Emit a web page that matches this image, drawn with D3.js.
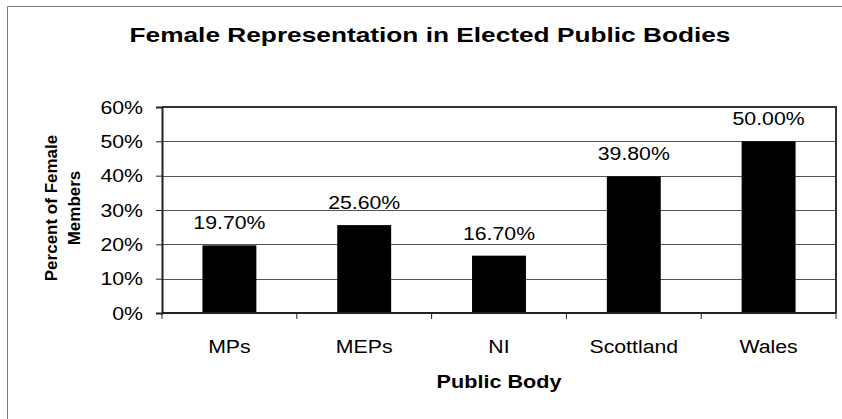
<!DOCTYPE html>
<html>
<head>
<meta charset="utf-8">
<script src="https://cdn.jsdelivr.net/npm/d3@7"></script>
<style>
  html, body { margin: 0; padding: 0; background: #fff; }
  svg { display: block; }
  text { font-family: Arial, "Liberation Sans", sans-serif; fill: #000; }
</style>
</head>
<body>
<svg id="chart" width="842" height="419"></svg>
<script>
const categories = ["MPs", "MEPs", "NI", "Scottland", "Wales"];
const values = [0.197, 0.256, 0.167, 0.398, 0.50];
const valueLabels = ["19.70%", "25.60%", "16.70%", "39.80%", "50.00%"];
const yTicks = [0, 0.1, 0.2, 0.3, 0.4, 0.5, 0.6];
const title = "Female Representation in Elected Public Bodies";
const xTitle = "Public Body";
const yTitleLines = ["Percent of Female", "Members"];

const svg = d3.select("#chart");
const W = 842, H = 419;
const plot = { left: 162, right: 836, top: 107, bottom: 313 };
const SX = 1.12; // horizontal stretch of the scanned text

// outer frame (left and top edges visible)
svg.append("path")
  .attr("d", `M7.5,${H} L7.5,6.5 L${W},6.5`)
  .attr("fill", "none").attr("stroke", "#777").attr("stroke-width", 1);

const x = d3.scaleBand().domain(categories)
  .range([plot.left, plot.right]).paddingInner(0.6).paddingOuter(0.3);
const step = x.step();
const y = d3.scaleLinear().domain([0, 0.6]).range([plot.bottom, plot.top]);

// gridlines
svg.append("g").selectAll("line").data(yTicks.filter(d => d > 0 && d < 0.6)).join("line")
  .attr("x1", plot.left).attr("x2", plot.right)
  .attr("y1", d => Math.round(y(d)) + 0.5).attr("y2", d => Math.round(y(d)) + 0.5)
  .attr("stroke", "#555").attr("stroke-width", 1);

// top and right border of plot
svg.append("path")
  .attr("d", `M${plot.left},${y(0.6)} L${plot.right},${y(0.6)} L${plot.right},${y(0)}`)
  .attr("fill", "none").attr("stroke", "#333").attr("stroke-width", 2);

// bars
svg.append("g").selectAll("rect").data(categories).join("rect")
  .attr("x", d => x(d))
  .attr("width", x.bandwidth())
  .attr("y", (d, i) => y(values[i]))
  .attr("height", (d, i) => y(0) - y(values[i]))
  .attr("fill", "#000");

// value labels
svg.append("g").selectAll("text").data(categories).join("text")
  .attr("transform", (d, i) => `translate(${x(d) + x.bandwidth() / 2},${y(values[i]) - 16}) scale(${SX},1)`)
  .attr("text-anchor", "middle")
  .style("font-size", "19px")
  .text((d, i) => valueLabels[i]);

// y axis
const yAxis = svg.append("g")
  .attr("transform", `translate(${plot.left},0)`)
  .call(d3.axisLeft(y).tickValues(yTicks).tickFormat(d3.format(".0%")).tickSize(6).tickPadding(11));
yAxis.select(".domain").attr("stroke", "#222").attr("stroke-width", 2);
yAxis.selectAll(".tick line").attr("stroke", "#222");
yAxis.selectAll(".tick text")
  .style("font-size", "19px").attr("fill", "#000")
  .attr("transform", `scale(${SX},1)`);
yAxis.attr("font-family", null).attr("font-size", null);

// x axis line and ticks
svg.append("line")
  .attr("x1", plot.left).attr("x2", plot.right)
  .attr("y1", y(0)).attr("y2", y(0))
  .attr("stroke", "#222").attr("stroke-width", 2);
const tickXs = categories.map(c => x(c) - (step - x.bandwidth()) / 2).concat([plot.right]);
svg.append("g").selectAll("line").data(tickXs).join("line")
  .attr("x1", d => d).attr("x2", d => d)
  .attr("y1", y(0)).attr("y2", y(0) + 6)
  .attr("stroke", "#222").attr("stroke-width", 1);

// category labels
svg.append("g").selectAll("text").data(categories).join("text")
  .attr("transform", d => `translate(${x(d) + x.bandwidth() / 2},353) scale(${SX},1)`)
  .attr("text-anchor", "middle")
  .style("font-size", "19px")
  .text(d => d);

// x axis title
svg.append("text")
  .attr("transform", `translate(${(plot.left + plot.right) / 2},388) scale(1.2,1)`)
  .attr("text-anchor", "middle")
  .style("font-size", "18px").style("font-weight", "bold")
  .text(xTitle);

// y axis title
const yt = svg.append("text")
  .attr("transform", `translate(57,${(plot.top + plot.bottom) / 2 - 2}) rotate(-90)`)
  .attr("text-anchor", "middle")
  .style("font-size", "17px").style("font-weight", "bold");
yTitleLines.forEach((t, i) => {
  yt.append("tspan").attr("x", 0).attr("dy", i === 0 ? 0 : 23).text(t);
});

// chart title
svg.append("text")
  .attr("transform", `translate(430,42) scale(1.25,1)`)
  .attr("text-anchor", "middle")
  .style("font-size", "21px").style("font-weight", "bold")
  .text(title);
</script>
</body>
</html>
